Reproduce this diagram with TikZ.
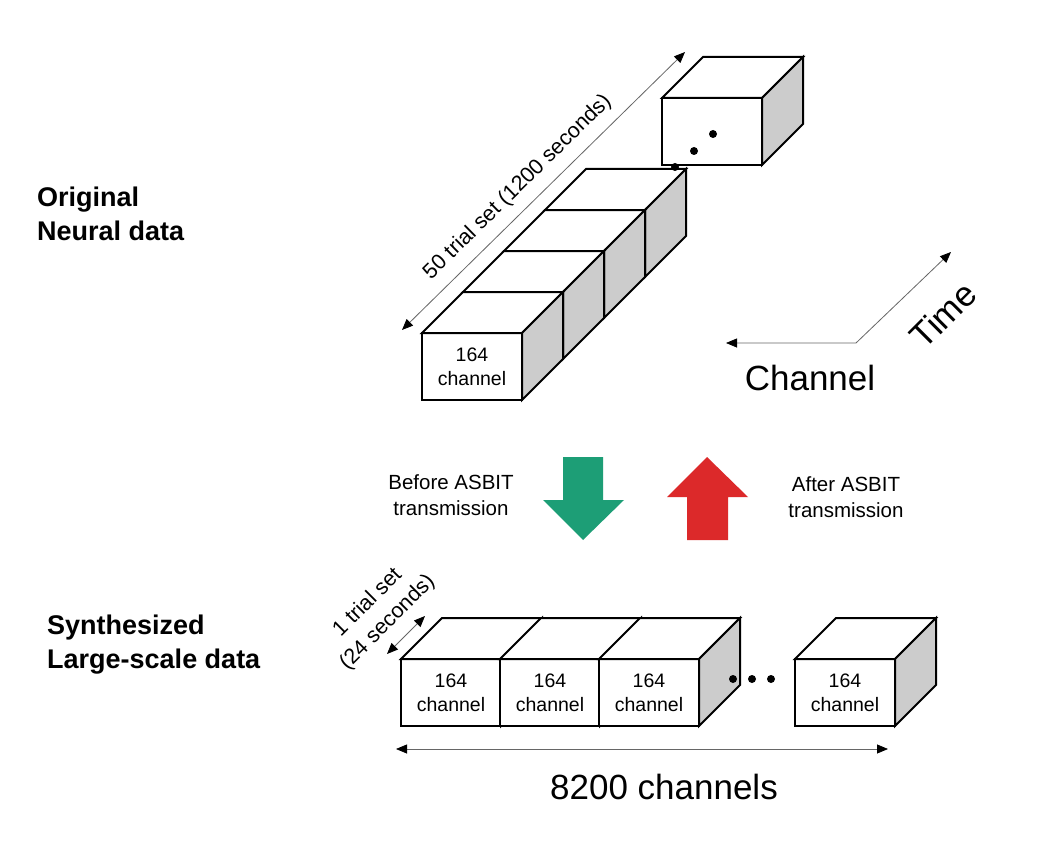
\documentclass[tikz,border=0pt]{standalone}
\usepackage{fontspec}
\setmainfont{Liberation Sans}
\usepackage{xcolor}
\usepackage{tikz}
\usetikzlibrary{arrows.meta}

\definecolor{asbitgreen}{RGB}{29,158,118}
\definecolor{asbitred}{RGB}{220,41,42}
\definecolor{sidegray}{RGB}{204,204,204}

\begin{document}
\begin{tikzpicture}[x=1pt,y=-1pt,
	face/.style={fill=white, draw=black, line width=2pt},
	side/.style={face, fill=sidegray},
	dim/.style={<->, >={Triangle[length=11pt,width=9pt,black]}, draw=black!60, line width=0.8pt},
	chan/.style={align=center, font=\fontsize{19.5}{24}\selectfont},
	small/.style={align=center, font=\fontsize{20.5}{26}\selectfont},
	slant/.style={align=center, font=\fontsize{21.5}{28}\selectfont},
	big/.style={font=\fontsize{35}{40}\selectfont},
	heading/.style={align=left, anchor=west, inner sep=0pt, font=\bfseries\fontsize{27}{34}\selectfont},
	databox/.pic={
		\path[face] (0,0) rectangle (100,67);
		\path[face] (0,0) -- (41,-41) -- (141,-41) -- (100,0) -- cycle;
		\path[side] (100,0) -- (141,-41) -- (141,26) -- (100,67) -- cycle;
		\coordinate (-c) at (50,33.5);
	}]
	\path[use as bounding box, fill=white] (0,0) rectangle (1050,856);

	\node[heading] (origLbl) at (37,214) {Original\\Neural data};
	\node[heading] (synLbl) at (47,645) {Synthesized\\Large-scale data};

	% stacked trials, back to front
	\foreach \k in {3,2,1,0}
		\pic (s\k) at ({422+41*\k},{333-41*\k}) {databox};
	\pic (lone) at (662,98) {databox};
	\node[chan] (s0lbl) at (s0-c) {164\\channel};

	\foreach \i/\x in {1/401,2/500,3/599,4/795}{
		\pic (b\i) at (\x,659) {databox};
		\node[chan] (lbl\i) at (b\i-c) {164\\channel};
	}

	\foreach \x/\y in {713/134,694/151,675/167,733/679,752/679,771/679}
		\fill (\x,\y) circle[radius=4pt];

	\coordinate (setA) at (402,330);
	\coordinate (setB) at (685,52);
	\draw[dim] (setA) -- (setB) node[slant, pos=0.46, sloped, above=7pt] (setLbl) {50 trial set (1200 seconds)};

	\coordinate (oneA) at (387,654);
	\coordinate (oneB) at (425,616);
	\draw[dim] (oneA) -- (oneB) node[slant, pos=0.42, sloped, above=8pt] (oneLbl) {1 trial set\\(24 seconds)};

	\coordinate (axO) at (856,343);
	\coordinate (axC) at (726,343);
	\coordinate (axT) at (951,252);
	\draw[dim] (axC) -- (axO) -- (axT);
	\node[big] (chanLbl) at (810,378) {Channel};
	\node[big, rotate=45] (timeLbl) at (943,315) {Time};

	\coordinate (totA) at (396,749);
	\coordinate (totB) at (888,749);
	\draw[dim] (totA) -- (totB);
	\node[big] (totLbl) at (664,787) {8200 channels};

	\node[small] (befLbl) at (451,495) {Before ASBIT\\transmission};
	\node[small] (aftLbl) at (846,497) {After ASBIT\\transmission};
	\fill[asbitgreen] (563,457) -- (603,457) -- (603,500) -- (624,500) -- (583,540) -- (543,500) -- (563,500) -- cycle;
	\fill[asbitred] (687,540) -- (728,540) -- (728,497) -- (748,497) -- (707,457) -- (667,497) -- (687,497) -- cycle;
\end{tikzpicture}
\end{document}
